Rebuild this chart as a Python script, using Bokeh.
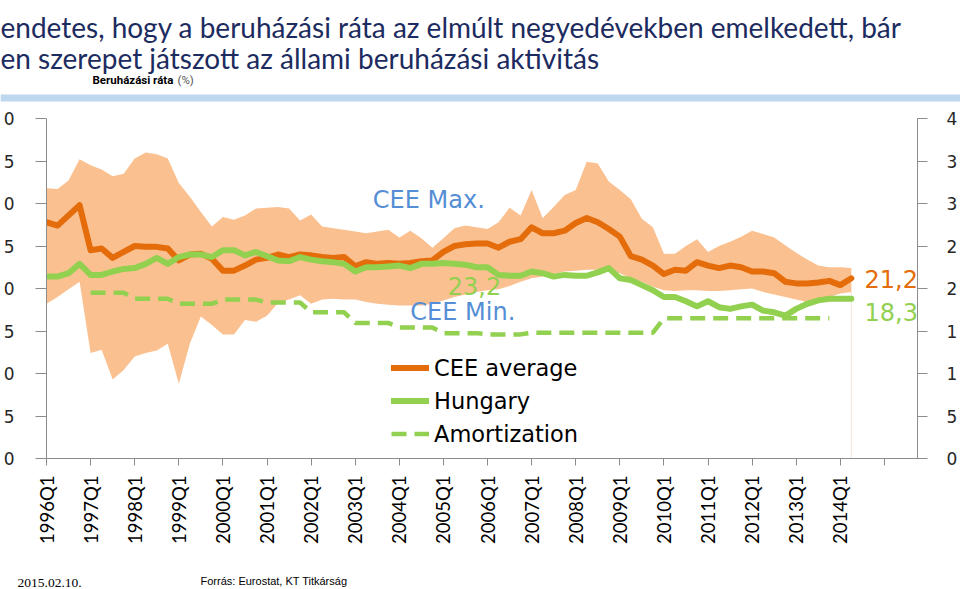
import math
from bokeh.plotting import figure
from bokeh.models import Range1d, LinearAxis, FixedTicker, Label, Legend, LegendItem
from bokeh.layouts import column
from bokeh.embed import file_html
from bokeh.resources import INLINE
from bokeh.core.properties import value

# ---------------- data ----------------
title_line1 = "endetes, hogy a beruházási ráta az elmúlt negyedévekben emelkedett, bár"
title_line2 = "en szerepet játszott az állami beruházási aktivitás"
subtitle_bold = "Beruházási ráta"
subtitle_unit = "(%)"
source_note = "Forrás: Eurostat, KT Titkárság"
date_note = "2015.02.10."

# category positions on the quarterly axis (0 = 1996Q1 ... 79 = 2015Q4)
tick_labels = ["1996Q1", "1997Q1", "1998Q1", "1999Q1", "2000Q1", "2001Q1", "2002Q1",
               "2003Q1", "2004Q1", "2005Q1", "2006Q1", "2007Q1", "2008Q1", "2009Q1",
               "2010Q1", "2011Q1", "2012Q1", "2013Q1", "2014Q1", ""]
tick_positions = [0, 4, 8, 12, 16, 20, 24, 28, 32, 36, 40, 44, 48, 52, 56, 60, 64, 68, 72, 76]
n_categories = 80

# left axis shows only the last digit (the slide is cropped), right axis only the first
y_ticks = [0, 5, 10, 15, 20, 25, 30, 35, 40]
left_tick_text = ["0", "5", "0", "5", "0", "5", "0", "5", "0"]
right_tick_text = ["0", "5", "1", "1", "2", "2", "3", "3", "4"]

# CEE average, 1996Q1 .. 2014Q2
cee_average = [27.8, 27.4, 28.6, 29.8, 24.5, 24.7, 23.6, 24.3, 25.0, 24.9, 24.9, 24.7,
               23.3, 24.0, 24.1, 23.5, 22.1, 22.1, 22.7, 23.4, 23.6, 24.0, 23.7, 24.0,
               23.9, 23.7, 23.6, 23.7, 22.6, 23.1, 22.9, 23.0, 22.9, 23.0, 23.2, 23.3,
               24.3, 25.0, 25.2, 25.3, 25.3, 24.8, 25.5, 25.8, 27.2, 26.5, 26.5, 26.8,
               27.7, 28.3, 27.8, 27.0, 26.1, 23.8, 23.4, 22.7, 21.7, 22.2, 22.1, 23.1,
               22.7, 22.4, 22.7, 22.5, 22.0, 22.0, 21.8, 20.8, 20.6, 20.6, 20.7, 20.9,
               20.4, 21.2]
# Hungary
hungary = [21.4, 21.4, 21.8, 22.9, 21.6, 21.6, 22.0, 22.3, 22.4, 22.9, 23.6, 22.9,
           23.7, 24.0, 24.0, 23.7, 24.5, 24.5, 23.9, 24.3, 23.8, 23.3, 23.2, 23.7,
           23.4, 23.2, 23.1, 22.9, 22.0, 22.5, 22.5, 22.6, 22.7, 22.4, 22.9, 22.9,
           23.0, 22.9, 22.8, 22.5, 22.5, 21.6, 21.5, 21.5, 22.0, 21.8, 21.4, 21.6,
           21.5, 21.5, 21.9, 22.4, 21.2, 21.0, 20.4, 19.8, 19.0, 19.0, 18.5, 17.9,
           18.5, 17.8, 17.6, 17.9, 18.1, 17.4, 17.2, 16.8, 17.6, 18.2, 18.6, 18.8,
           18.8, 18.8]
# CEE maximum / minimum (shaded range)
cee_max = [31.8, 31.7, 32.7, 35.2, 34.5, 34.0, 33.2, 33.5, 35.3, 36.0, 35.8, 35.3,
           32.4, 30.8, 29.0, 27.3, 28.4, 28.1, 28.6, 29.4, 29.5, 29.6, 29.4, 28.0,
           28.7, 27.3, 27.1, 26.9, 26.7, 26.5, 26.7, 26.9, 26.0, 26.8, 25.9, 24.8,
           25.9, 27.1, 27.4, 27.2, 27.0, 27.8, 29.5, 28.6, 31.6, 28.3, 29.6, 31.0,
           31.6, 34.9, 34.7, 32.6, 31.6, 30.5, 28.2, 27.2, 24.1, 24.1, 25.0, 25.8,
           24.3, 25.0, 25.5, 26.1, 26.8, 26.4, 26.0, 25.1, 24.2, 23.4, 22.7, 22.5,
           22.5, 22.4]
cee_min = [18.2, 19.0, 19.9, 20.8, 12.4, 12.8, 9.3, 10.4, 12.0, 12.4, 12.7, 13.5,
           8.8, 13.5, 16.7, 15.7, 14.6, 14.6, 16.3, 16.1, 16.8, 18.3, 18.7, 19.2,
           18.2, 18.7, 18.8, 18.7, 18.7, 18.4, 18.2, 18.1, 18.0, 18.0, 18.0, 18.2,
           18.6, 19.0, 19.3, 19.6, 19.8, 19.9, 20.3, 20.8, 21.2, 21.4, 21.7, 22.0,
           22.1, 22.2, 22.2, 22.3, 21.8, 21.2, 20.8, 20.2, 19.8, 19.7, 19.8, 19.8,
           19.7, 19.7, 19.8, 19.9, 20.0, 19.6, 19.3, 19.0, 18.7, 18.4, 18.7, 19.0,
           19.4, 19.6]
quarter_pos = list(range(len(cee_average)))

# Amortization, 1997Q1 .. 2013Q4
amortization = [19.5, 19.5, 19.5, 19.5, 18.8, 18.8, 18.8, 18.8, 18.2, 18.2, 18.2, 18.2,
                18.7, 18.7, 18.7, 18.7, 18.35, 18.35, 18.35, 18.35, 17.2, 17.2, 17.2, 17.2,
                15.95, 15.95, 15.95, 15.95, 15.4, 15.4, 15.4, 15.4, 14.75, 14.75, 14.75, 14.75,
                14.6, 14.6, 14.6, 14.6, 14.8, 14.8, 14.8, 14.8, 14.8, 14.8, 14.8, 14.8,
                14.8, 14.8, 14.8, 14.8, 16.5, 16.5, 16.5, 16.5, 16.5, 16.5, 16.5, 16.5,
                16.5, 16.5, 16.5, 16.5, 16.5, 16.5, 16.5, 16.5]
amort_start = 4
amort_pos = list(range(amort_start, amort_start + len(amortization)))

# ---------------- styles ----------------
W = 960
H_TOP, H_MAIN, H_BOT = 108, 458, 23
ORANGE = "#E46C0A"
GREEN = "#92D050"
PEACH = "#FAC090"
BLUE_TXT = "#558ED5"
NAVY = "#1C2B60"


def bare(fig):
    fig.grid.visible = False
    fig.outline_line_color = None
    return fig


# ---------------- header ----------------
top = bare(figure(width=W, height=H_TOP, x_range=Range1d(0, W), y_range=Range1d(H_TOP, 0),
                  output_backend="svg", toolbar_location=None, min_border=0, title=None,
                  x_axis_location=None, y_axis_location=None, frame_align=False))
top.quad(left=[0], right=[W], top=[94], bottom=[101], fill_color="#BDD7EE", line_color=None)
top.text(x=[0], y=[26], text=[title_line1], text_font=value("Lato"), text_font_size="28px",
         text_color=NAVY, text_baseline="alphabetic")
top.text(x=[0], y=[57], text=[title_line2], text_font=value("Lato"), text_font_size="28px",
         text_color=NAVY, text_baseline="alphabetic")
top.text(x=[92], y=[79], text=[subtitle_bold], text_font=value("Roboto"), text_font_size="11.5px",
         text_font_style="bold", text_color="#000000", text_baseline="alphabetic")
top.text(x=[177], y=[79], text=[subtitle_unit], text_font=value("Roboto"), text_font_size="11.5px",
         text_color="#555555", text_baseline="alphabetic")

# ---------------- chart ----------------
p = bare(figure(width=W, height=H_MAIN, x_range=Range1d(0, n_categories - 1), y_range=Range1d(0, 40),
                output_backend="svg", toolbar_location=None, title=None, frame_align=False,
                min_border_left=45, min_border_right=41, min_border_top=10, min_border_bottom=108))
p.background_fill_color = "#FFFFFF"

r_band = p.varea(x=quarter_pos, y1=cee_min, y2=cee_max, fill_color=PEACH)
p.segment(x0=[quarter_pos[-1]], y0=[0], x1=[quarter_pos[-1]], y1=[cee_min[-1]],
          line_color="#F3E5D8", line_width=1)
r_am = p.line(amort_pos, amortization, line_color=GREEN, line_width=4.5, line_dash="15 8")
r_avg = p.line(quarter_pos, cee_average, line_color=ORANGE, line_width=6,
               line_join="round", line_cap="round")
r_hu = p.line(quarter_pos, hungary, line_color=GREEN, line_width=6,
              line_join="round", line_cap="round")

# x axis
xa = p.xaxis[0]
xa.ticker = FixedTicker(ticks=tick_positions)
xa.major_label_overrides = {pos: lab for pos, lab in zip(tick_positions, tick_labels)}
xa.major_label_orientation = math.pi / 2
xa.major_label_text_font = "Lato"
xa.major_label_text_font_size = "18.5px"
xa.major_label_text_color = "#000000"
xa.major_label_standoff = 10
xa.axis_line_color = "#8C8C8C"
xa.major_tick_line_color = "#8C8C8C"
xa.major_tick_out = 7
xa.major_tick_in = 0
xa.minor_tick_line_color = None

# left axis
ya = p.yaxis[0]
ya.ticker = FixedTicker(ticks=y_ticks)
ya.major_label_overrides = {t: s for t, s in zip(y_ticks, left_tick_text)}
ya.major_label_text_font = "DejaVu Sans"
ya.major_label_text_font_size = "17px"
ya.major_label_text_color = "#262626"
ya.major_label_standoff = 21
ya.axis_line_color = "#8C8C8C"
ya.major_tick_line_color = "#8C8C8C"
ya.major_tick_out = 11
ya.major_tick_in = 0
ya.minor_tick_line_color = None

# right axis
yr = LinearAxis(ticker=FixedTicker(ticks=y_ticks),
                major_label_overrides={t: s for t, s in zip(y_ticks, right_tick_text)},
                major_label_text_font="DejaVu Sans", major_label_text_font_size="17px",
                major_label_text_color="#262626", major_label_standoff=19,
                axis_line_color="#8C8C8C", major_tick_line_color="#8C8C8C",
                major_tick_out=10, major_tick_in=0, minor_tick_line_color=None)
p.add_layout(yr, "right")


# annotations
def lab(x, y, text, color):
    p.add_layout(Label(x=x, y=y, text=text, text_color=color, text_font="DejaVu Sans",
                       text_font_size="24px", text_baseline="middle", text_align="left"))


lab(29.6, 30.4, "CEE Max.", BLUE_TXT)
lab(33.0, 17.2, "CEE Min.", BLUE_TXT)
lab(36.4, 20.3, "23,2", GREEN)
lab(74.2, 21.15, "21,2", ORANGE)
lab(74.2, 17.2, "18,3", GREEN)

legend = Legend(items=[LegendItem(label="CEE average", renderers=[r_avg]),
                       LegendItem(label="Hungary", renderers=[r_hu]),
                       LegendItem(label="Amortization", renderers=[r_am])],
                location=(345, 10), orientation="vertical",
                border_line_color=None, background_fill_alpha=0,
                padding=0, margin=0, glyph_width=38, glyph_height=29, label_height=29,
                spacing=4, label_standoff=5, label_text_font="DejaVu Sans",
                label_text_font_size="22.5px", label_text_color="#000000")
p.add_layout(legend)

# ---------------- footer ----------------
bot = bare(figure(width=W, height=H_BOT, x_range=Range1d(0, W), y_range=Range1d(H_BOT, 0),
                  output_backend="svg", toolbar_location=None, min_border=0, title=None,
                  x_axis_location=None, y_axis_location=None, frame_align=False))
bot.text(x=[17], y=[16.5], text=[date_note], text_font=value("Liberation Serif"),
         text_font_size="13.5px", text_color="#000000", text_baseline="alphabetic")
bot.text(x=[200], y=[14], text=[source_note], text_font=value("Liberation Sans"),
         text_font_size="11px", text_color="#000000", text_baseline="alphabetic")

layout = column(top, p, bot, spacing=0)
open("out.html", "w").write(file_html(layout, INLINE))
